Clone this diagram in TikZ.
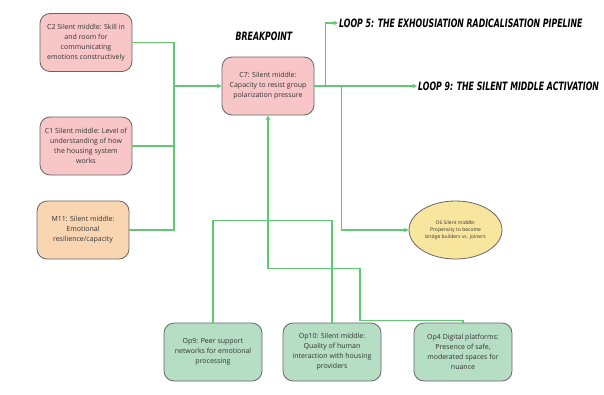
\documentclass[tikz,border=0pt]{standalone}
\usepackage{fontspec}
\setmainfont{Open Sans}
\newfontfamily\loopfont{DejaVu Sans}[FakeStretch=0.68]
\usepackage{tikz}
\usetikzlibrary{shapes.geometric, arrows}
\definecolor{linkgreen}{RGB}{96,200,112}
\definecolor{boxpink}{RGB}{248,198,198}
\definecolor{boxorange}{RGB}{249,213,178}
\definecolor{boxgreen}{RGB}{181,222,196}
\definecolor{boxyellow}{RGB}{248,230,158}
\tikzstyle{factor} = [rectangle, rounded corners=10pt, minimum width=92pt, minimum height=58pt, text centered, align=center, draw=black!60, line width=0.8pt, font=\fontsize{7}{10}\selectfont, text=black!80]
\tikzstyle{lever} = [factor, minimum width=98pt, fill=boxgreen]
\tikzstyle{outcome} = [ellipse, minimum width=93pt, minimum height=58pt, inner sep=0pt, text centered, align=center, draw=black!60, line width=0.8pt, fill=boxyellow, font=\fontsize{5}{7.3}\selectfont, text=black!80]
\tikzstyle{looplabel} = [inner sep=1pt, font=\loopfont\bfseries\itshape\fontsize{11.5}{12}\selectfont]
\tikzstyle{link} = [draw=linkgreen, line width=1.1pt]
\tikzstyle{arrow} = [link, ->, >=stealth]

\begin{document}
\begin{tikzpicture}[x=1pt, y=-1pt]
\useasboundingbox (0,0) rectangle (604,394);
\node (c2) [factor, fill=boxpink] at (86,42.5) {C2 Silent middle: Skill in\\and room for\\communicating\\emotions constructively};
\node (c1) [factor, fill=boxpink] at (86,146) {C1 Silent middle: Level of\\understanding of how\\the housing system\\works};
\node (m11) [factor, fill=boxorange] at (83,230) {M11: Silent middle:\\Emotional\\resilience/capacity};
\node (c7) [factor, fill=boxpink] at (268,86) {C7: Silent middle:\\Capacity to resist group\\polarization pressure};
\node (bp) [looplabel] at (264,36) {BREAKPOINT};
\node (op9) [lever] at (213,352) {Op9: Peer support\\networks for emotional\\processing};
\node (op10) [lever] at (332,352) {Op10: Silent middle:\\Quality of human\\interaction with housing\\providers};
\node (op4) [lever] at (463,352) {Op4 Digital platforms:\\Presence of safe,\\moderated spaces for\\nuance};
\node (o6) [outcome] at (455.5,230) {O6 Silent middle:\\Propensity to become\\bridge builders vs. joiners};
\node (loop5) [looplabel, anchor=west] at (338,23) {LOOP 5: THE EXHOUSIATION RADICALISATION PIPELINE};
\node (loop9) [looplabel, anchor=west] at (417,86) {LOOP 9: THE SILENT MIDDLE ACTIVATION};

% inputs into C7
\coordinate (merge) at (174,86);
\draw [link] (c2.east) -| (merge);
\draw [link] (c1.east) -| (merge);
\draw [link] (m11.east) -| (merge);
\draw [arrow] (merge) -- (c7.west);

% out of C7
\draw [arrow] (c7.east) -- ++(11,0) |- (loop5.west);
\draw [arrow] (c7.east) -- (loop9.west);
\draw [arrow] (c7.east) -- ++(27,0) |- (o6.west);

% levers
\draw [link] (op9.north) -- ++(0,-102) -| (op10.north);
\draw [arrow] (op4.north) -- ++(0,-2) -| ++(-103,-52) -| (c7.south);
\end{tikzpicture}
\end{document}
